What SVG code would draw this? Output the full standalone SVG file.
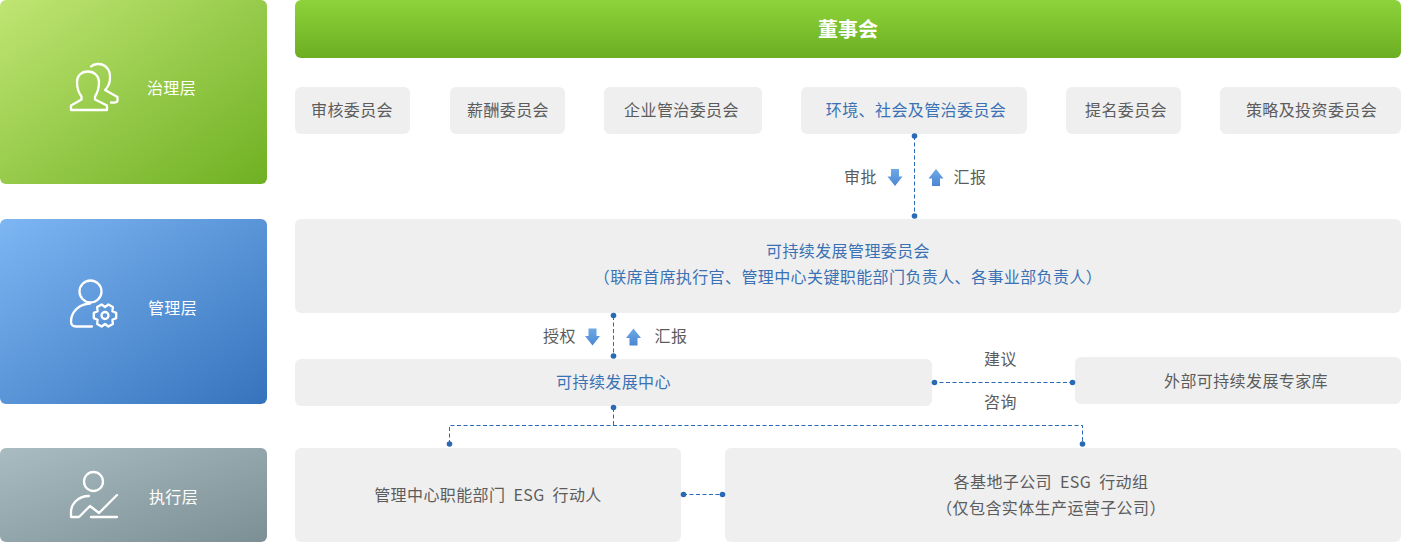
<svg xmlns="http://www.w3.org/2000/svg" width="1402" height="542" viewBox="0 0 1402 542">
<style>
text{font-family:"Noto Sans CJK SC","Liberation Sans",sans-serif;font-size:16px;letter-spacing:.4px;word-spacing:4px;fill:#5c5c5c;text-anchor:middle}
.b{fill:#3a72b5}
.w{fill:#fff}
.g{fill:#efefef}
.c{fill:none;stroke:#2a69b3;stroke-width:1;stroke-dasharray:4 2.5}
.d{fill:#2a69b3}
.i{fill:none;stroke:#fff;stroke-width:2.3;stroke-linecap:round;stroke-linejoin:round}
</style>
<defs>
<linearGradient id="gg" x1="0" y1="0" x2="1" y2="1"><stop offset="0" stop-color="#bfe573"/><stop offset="1" stop-color="#6fb023"/></linearGradient>
<linearGradient id="gb" x1="0" y1="0" x2="1" y2="1"><stop offset="0" stop-color="#7db6f3"/><stop offset="1" stop-color="#3673bc"/></linearGradient>
<linearGradient id="gs" x1="0" y1="0" x2="1" y2="1"><stop offset="0" stop-color="#a9bcc1"/><stop offset="1" stop-color="#7c8f94"/></linearGradient>
<linearGradient id="gt" x1="0" y1="0" x2="0" y2="1"><stop offset="0" stop-color="#8ed33a"/><stop offset="1" stop-color="#6cae22"/></linearGradient>
<linearGradient id="ga" x1="0" y1="0" x2="0" y2="1"><stop offset="0" stop-color="#6fa8e6"/><stop offset="1" stop-color="#4a88d2"/></linearGradient>
<path id="down" d="M-4-8.500H4V-1H7.500L0 8.500-7.500-1H-4Z" fill="url(#ga)"/>
<path id="up" d="M0-8.500 7.500 1H4V8.500H-4V1H-7.500Z" fill="url(#ga)"/>
</defs>

<g id="layer-governance">
<rect width="267" height="184" rx="6" fill="url(#gg)"/>
<path class="i" d="M71 110V105.500L81.500 99.500V96.500C78 92 77 87 77 82C77 76 81 71.500 88 71.500C94 71.500 99 76 99 82C99 87 98 92 95 96.500V99.500L107 105.500V110Z"/>
<path class="i" d="M91 66.500C94 63.500 101 63 105 66C110 70 110 74 110 78C110 83 108 87 105 90L117.500 97V100.500C117.500 102.500 114 103 111 102.500"/>
<text class="w" x="171.500" y="93.500">治理层</text>
</g>
<g id="layer-management">
<rect y="219" width="267" height="185" rx="6" fill="url(#gb)"/>
<circle class="i" cx="90.500" cy="291.500" r="11"/>
<path class="i" d="M90 303.500C79 304 71 312 71 321.500C71 325 73 326.500 76 326.500H92"/>
<path class="i" transform="translate(105 315.500)" d="M11.200-2.600V2.600L7.400 4.250 7.840 8.410 3.360 11 0 8.500-3.360 11-7.840 8.410-7.400 4.250-11.200 2.600V-2.600L-7.400-4.250-7.840-8.410-3.360-11 0-8.500 3.360-11 7.840-8.410 7.400-4.250Z"/>
<circle class="i" cx="105" cy="315.500" r="3.500"/>
<text class="w" x="172.500" y="313.500">管理层</text>
</g>
<g id="layer-execution">
<rect y="448" width="267" height="94" rx="6" fill="url(#gs)"/>
<circle class="i" cx="93.500" cy="481.500" r="9.500"/>
<path class="i" d="M89 496C78 496 71 504 71 512V517H79L90 506 99 513 117 495"/>
<path class="i" d="M91 517H117"/>
<text class="w" x="173.500" y="502.500">执行层</text>
</g>

<g id="board"><rect x="295" width="1106" height="58" rx="6" fill="url(#gt)"/><text class="w" x="848" y="36.500" style="font-size:20px;letter-spacing:0;font-weight:700">董事会</text></g>
<g id="committee-audit"><rect class="g" x="295" y="87" width="115" height="47" rx="6"/><text x="352" y="116">审核委员会</text></g>
<g id="committee-pay"><rect class="g" x="450" y="87" width="115" height="47" rx="6"/><text x="508" y="116">薪酬委员会</text></g>
<g id="committee-corp"><rect class="g" x="604" y="87" width="158" height="47" rx="6"/><text x="681.500" y="116">企业管治委员会</text></g>
<g id="committee-esg"><rect class="g" x="801" y="87" width="226" height="47" rx="6"/><text class="b" x="916" y="116">环境、社会及管治委员会</text></g>
<g id="committee-nom"><rect class="g" x="1066" y="87" width="115" height="47" rx="6"/><text x="1126" y="116">提名委员会</text></g>
<g id="committee-strategy"><rect class="g" x="1220" y="87" width="181" height="47" rx="6"/><text x="1311.500" y="116">策略及投资委员会</text></g>

<g id="sd-committee"><rect class="g" x="295" y="219" width="1106" height="94" rx="6"/><text class="b" x="848" y="257">可持续发展管理委员会</text><text class="b" x="848" y="283">（联席首席执行官、管理中心关键职能部门负责人、各事业部负责人）</text></g>
<g id="sd-center"><rect class="g" x="295" y="359" width="637" height="47" rx="6"/><text class="b" x="613.500" y="388">可持续发展中心</text></g>
<g id="expert-pool"><rect class="g" x="1075" y="357" width="326" height="47" rx="6"/><text x="1246" y="386.500">外部可持续发展专家库</text></g>
<g id="functional-dept"><rect class="g" x="295" y="448" width="386" height="94" rx="6"/><text x="488" y="501">管理中心职能部门 ESG 行动人</text></g>
<g id="subsidiaries"><rect class="g" x="725" y="448" width="676" height="94" rx="6"/><text x="1051" y="488">各基地子公司 ESG 行动组</text><text x="1051" y="513.500">（仅包含实体生产运营子公司）</text></g>

<g id="connectors">
<path class="c" d="M914.500 136V216M613.500 316V356M933 382.500H1073M613.500 408V425.500M449.500 444V425.500H1082.500V444M683 494.500H723"/>
<g class="d">
<circle cx="914.500" cy="136" r="2.800"/><circle cx="914.500" cy="216" r="2.800"/>
<circle cx="613.500" cy="315.500" r="2.800"/><circle cx="613.500" cy="356" r="2.800"/>
<circle cx="934.500" cy="382.500" r="2.800"/><circle cx="1072.500" cy="382.500" r="2.800"/>
<circle cx="613.500" cy="407.500" r="2.800"/><circle cx="449.500" cy="444" r="2.800"/><circle cx="1082.500" cy="444" r="2.800"/>
<circle cx="683.500" cy="494.500" r="2.800"/><circle cx="722.500" cy="494.500" r="2.800"/>
</g>
</g>

<g id="labels">
<text x="860.500" y="182.500">审批</text><use href="#down" x="895" y="177.500"/><use href="#up" x="936" y="177.500"/><text x="970" y="182.500">汇报</text>
<text x="559.500" y="342">授权</text><use href="#down" x="592.500" y="337"/><use href="#up" x="633.500" y="337"/><text x="671" y="342">汇报</text>
<text x="1000.500" y="364.500">建议</text><text x="1000.500" y="408">咨询</text>
</g>
</svg>
